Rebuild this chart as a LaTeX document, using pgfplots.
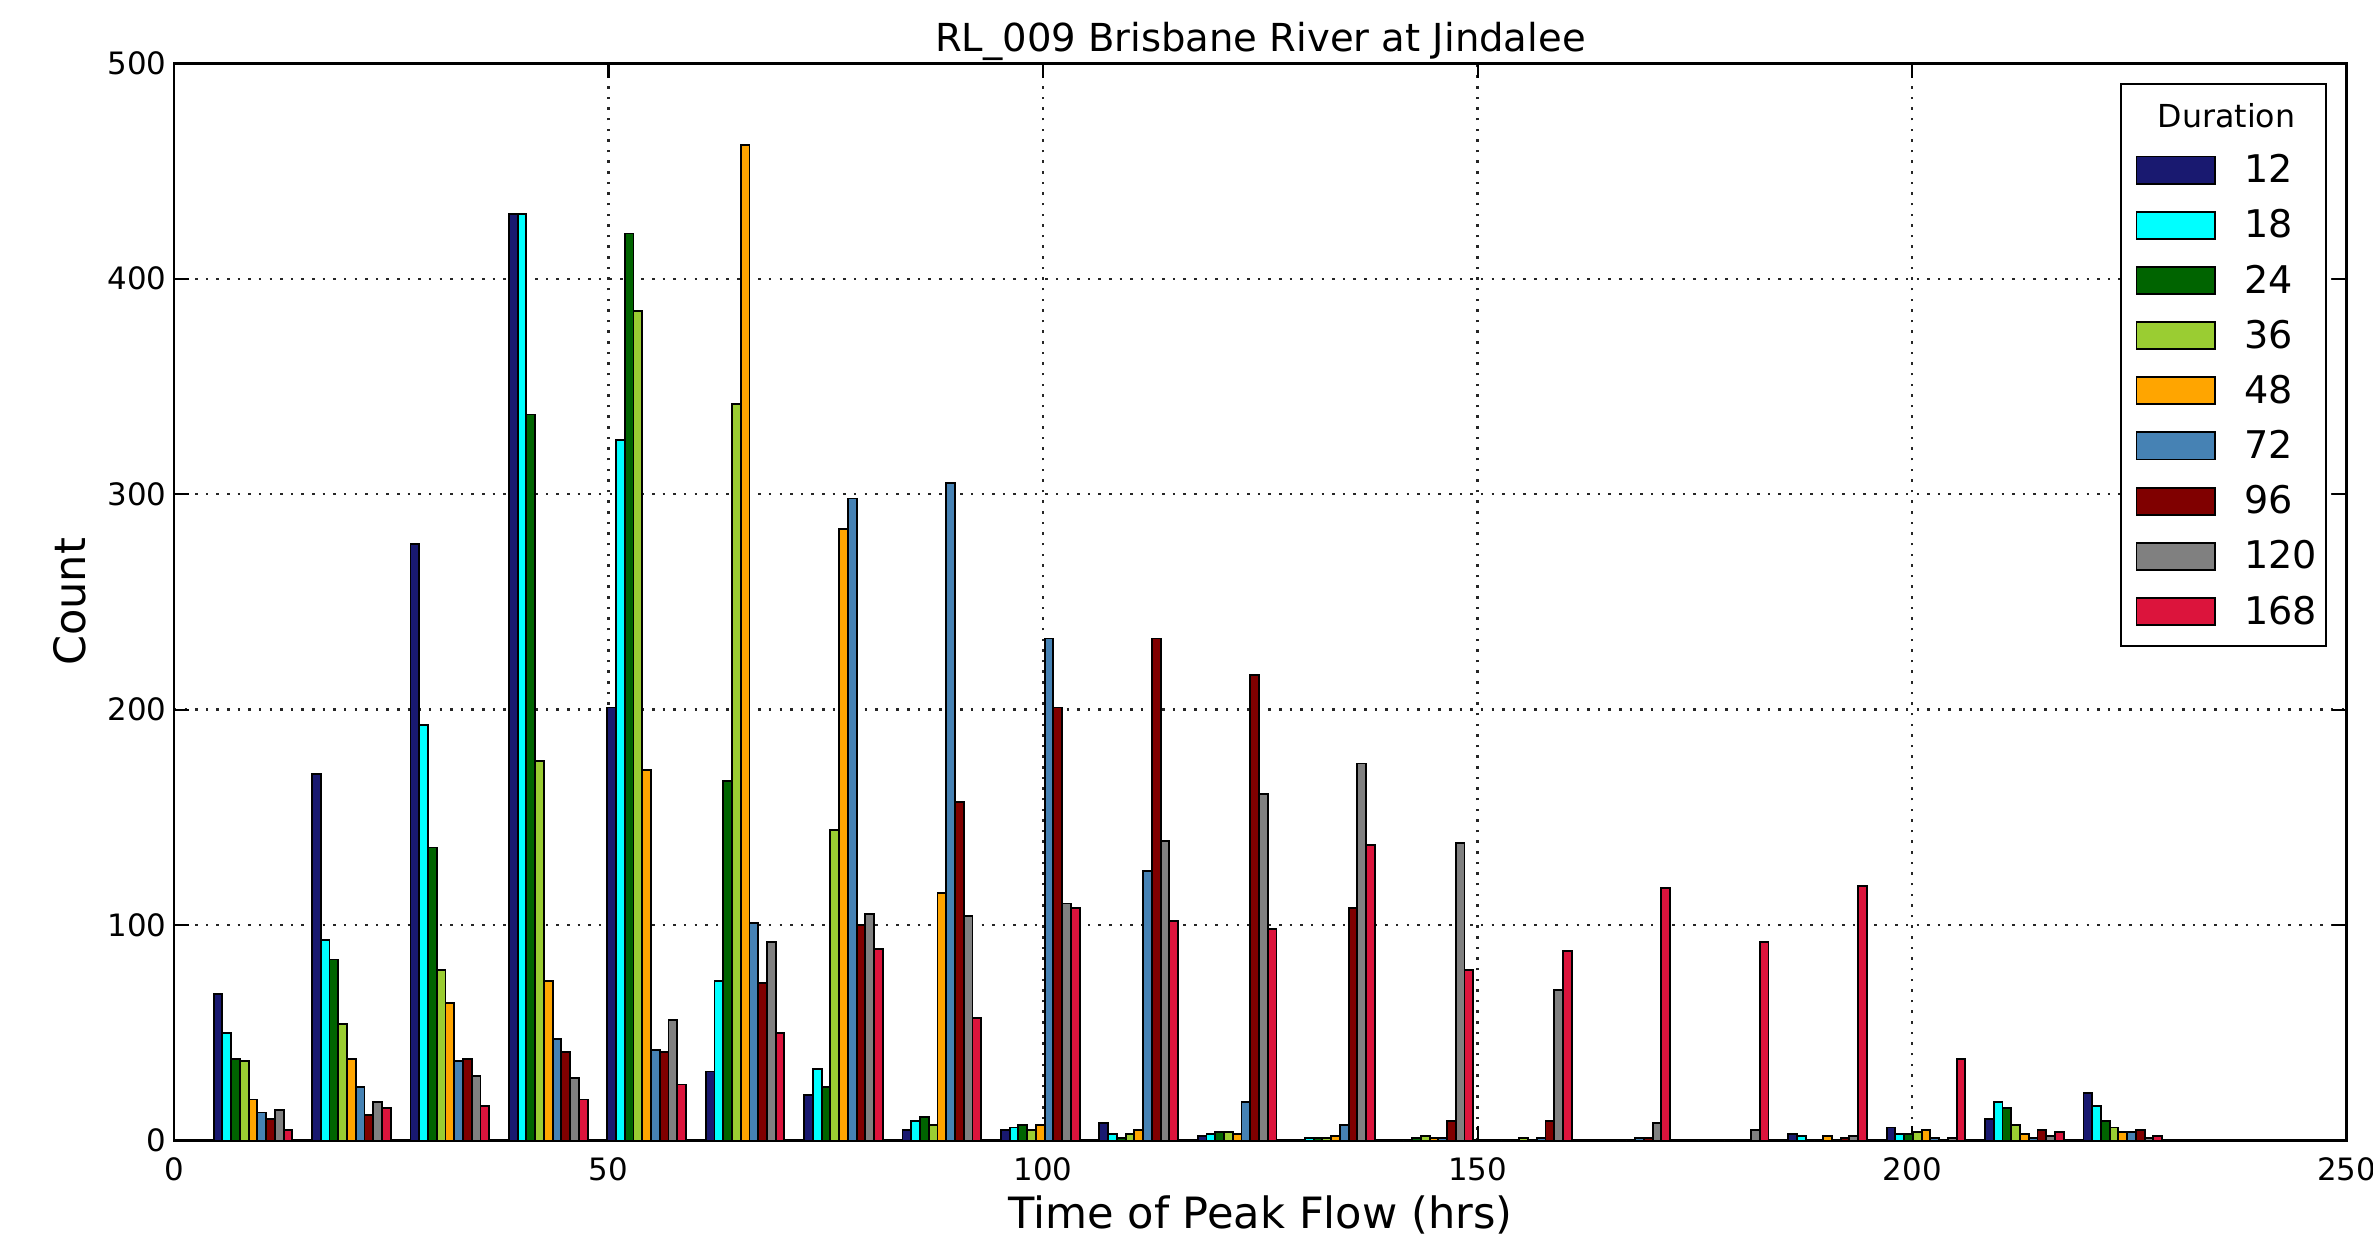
\documentclass[border=0pt]{standalone}
\usepackage{fontspec}
\setmainfont{DejaVu Sans}
\usepackage{pgfplots}
\usepackage{pgfplotstable}
\pgfplotsset{compat=1.18}

\definecolor{c12}{HTML}{191970}
\definecolor{c18}{HTML}{00FFFF}
\definecolor{c24}{HTML}{006400}
\definecolor{c36}{HTML}{9ACD32}
\definecolor{c48}{HTML}{FFA500}
\definecolor{c72}{HTML}{4682B4}
\definecolor{c96}{HTML}{800000}
\definecolor{c120}{HTML}{808080}
\definecolor{c168}{HTML}{DC143C}

% bin centre, then counts per storm duration
\pgfplotstableread{
x      d12 d18 d24 d36 d48 d72 d96 d120 d168
9.09    68  50  38  37  19  13  10  14   5
20.41  170  93  84  54  38  25  12  18  15
31.74  277 193 136  79  64  37  38  30  16
43.06  430 430 337 176  74  47  41  29  19
54.38  201 325 421 385 172  42  41  56  26
65.71   32  74 167 342 462 101  73  92  50
77.03   21  33  25 144 284 298 100 105  89
88.35    5   9  11   7 115 305 157 104  57
99.67    5   6   7   5   7 233 201 110 108
111.00   8   3   1   3   5 125 233 139 102
122.32   2   3   4   4   3  18 216 161  98
133.64   0   1   1   1   2   7 108 175 137
144.97   0   0   1   2   1   1   9 138  79
156.29   0   0   0   1   0   1   9  70  88
167.61   0   0   0   0   0   1   1   8 117
178.93   0   0   0   0   0   0   0   5  92
190.26   3   2   0   0   2   0   1   2 118
201.58   6   3   3   4   5   1   0   1  38
212.90  10  18  15   7   3   1   5   2   4
224.23  22  16   9   6   4   4   5   1   2
}\peaks

\pgfplotsset{
  hbar/.style={ybar, bar width=1.0065, bar shift=0pt, draw=black, line width=0.9pt,
    fill=#1,
    legend image code/.code={
      \draw[fill=#1, draw=black, line width=0.9pt] (2.9pt,-6.5pt) rectangle (40.7pt,6.5pt);
      \path[draw=none, fill=none] (0pt,0pt) rectangle (54.5pt,0pt);}},
}

\begin{document}
\begin{tikzpicture}
\useasboundingbox (-83.5pt,-55.2pt) rectangle (1055.5pt,547.4pt);
\begin{axis}[
  name=ax, at={(0,0)}, anchor=south west,
  width=1042.9pt, height=517pt, scale only axis,
  xmin=0, xmax=250, ymin=0, ymax=500,
  xtick={0,50,...,250}, ytick={0,100,...,500},
  axis line style={line width=1.3pt},
  tick align=inside, tick pos=both,
  major tick length=7pt,
  tick style={line width=1pt, black},
  grid=major,
  major grid style={line width=1.2pt, black!85, dash pattern=on 1.2pt off 3.9pt},
  /pgf/number format/assume math mode=true,
  tick label style={font=\fontsize{14.8}{17}\selectfont},
  xticklabel style={yshift=-4.5pt},
  title={RL\_009 Brisbane River at Jindalee},
  every axis title/.style={font=\fontsize{18.5}{22}\selectfont, at={(0.5,1)}, anchor=base, yshift=5.9pt},
  xlabel={Time of Peak Flow (hrs)},
  every axis x label/.style={font=\fontsize{20.7}{24}\selectfont, at={(0.5,0)}, anchor=base, yshift=-42.2pt},
  ylabel={Count},
  every axis y label/.style={font=\fontsize{20.7}{24}\selectfont, at={(0,0.5)}, xshift=-42.7pt, rotate=90, anchor=base},
  legend style={at={(axis description cs:1,1)}, anchor=north east, xshift=-9.5pt, yshift=-9.5pt,
    draw=black, line width=1pt, font=\fontsize{18.3}{22}\selectfont,
    nodes={inner sep=0pt}, cells={anchor=west}, row sep=11.4pt,
    inner xsep=4.4pt, inner ysep=9.25pt},
]
\addlegendimage{empty legend}
\addlegendentry{\hspace*{-41.4pt}\fontsize{15.2}{18}\selectfont Duration}
\addplot[hbar=c12]  table[x expr=\thisrow{x}-4*1.0065, y=d12]  {\peaks}; \addlegendentry{12}
\addplot[hbar=c18]  table[x expr=\thisrow{x}-3*1.0065, y=d18]  {\peaks}; \addlegendentry{18}
\addplot[hbar=c24]  table[x expr=\thisrow{x}-2*1.0065, y=d24]  {\peaks}; \addlegendentry{24}
\addplot[hbar=c36]  table[x expr=\thisrow{x}-1*1.0065, y=d36]  {\peaks}; \addlegendentry{36}
\addplot[hbar=c48]  table[x expr=\thisrow{x},          y=d48]  {\peaks}; \addlegendentry{48}
\addplot[hbar=c72]  table[x expr=\thisrow{x}+1*1.0065, y=d72]  {\peaks}; \addlegendentry{72}
\addplot[hbar=c96]  table[x expr=\thisrow{x}+2*1.0065, y=d96]  {\peaks}; \addlegendentry{96}
\addplot[hbar=c120] table[x expr=\thisrow{x}+3*1.0065, y=d120] {\peaks}; \addlegendentry{120}
\addplot[hbar=c168] table[x expr=\thisrow{x}+4*1.0065, y=d168] {\peaks}; \addlegendentry{168}
\end{axis}
\end{tikzpicture}
\end{document}
